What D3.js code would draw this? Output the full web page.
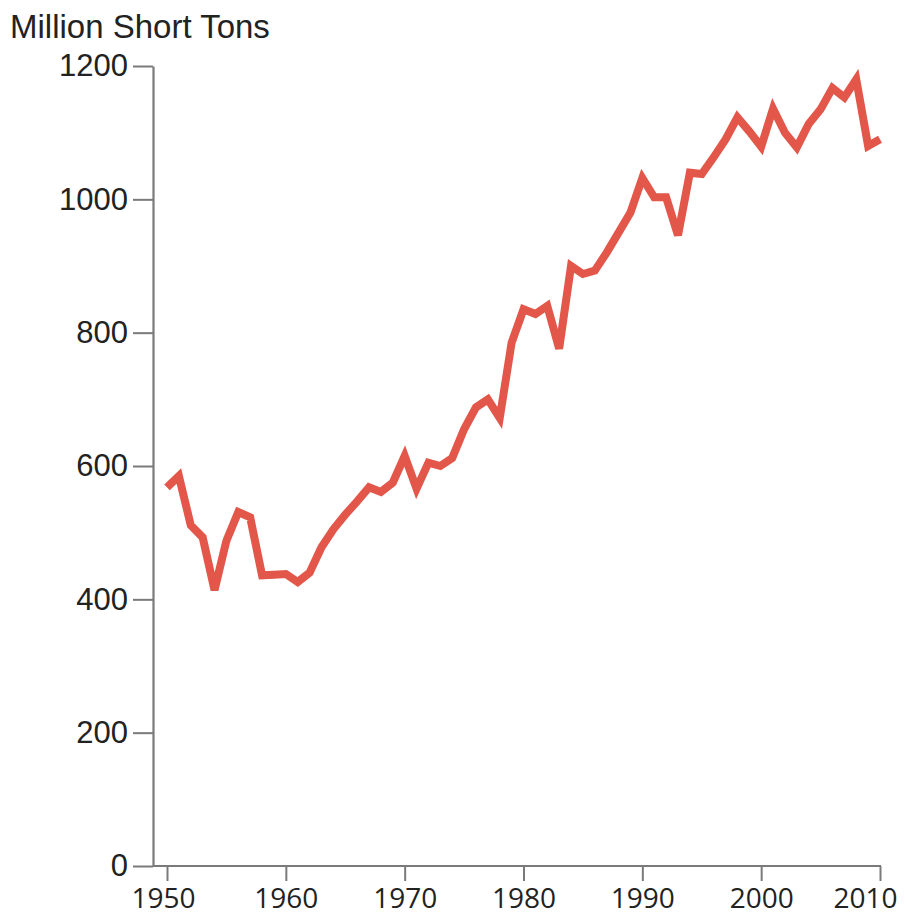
<!DOCTYPE html>
<html>
<head>
<meta charset="utf-8">
<script src="https://cdn.jsdelivr.net/npm/d3@7"></script>
<style>
  html, body { margin: 0; padding: 0; background: #fff; }
  svg { display: block; }
</style>
</head>
<body>
<svg id="chart" width="907" height="917"></svg>
<script>
const years = d3.range(1950, 2011);
const production = [
  568, 585, 511, 493, 414, 488, 531, 523, 436, 437,
  438, 426, 440, 478, 505, 527, 547, 568, 561, 575,
  615, 566, 605, 600, 612, 655, 688, 700, 672, 785,
  835, 828, 840, 776, 900, 888, 893, 920, 950, 980,
  1032, 1003, 1003, 946, 1040, 1038, 1063, 1090, 1123, 1102,
  1079, 1136, 1100, 1078, 1113, 1135, 1167, 1153, 1180, 1080,
  1090
];
const yTicks = [0, 200, 400, 600, 800, 1000, 1200];
const xTicks = [1950, 1960, 1970, 1980, 1990, 2000, 2010];
const yTitle = "Million Short Tons";

const svg = d3.select("#chart");
const axisX0 = 153;
const x = d3.scaleLinear().domain([1950, 2010]).range([167, 880]);
const y = d3.scaleLinear().domain([0, 1200]).range([866, 66]);
const axisColor = "#7a7a7a";

// Y axis
const gy = svg.append("g")
  .attr("transform", `translate(${axisX0},0)`)
  .call(d3.axisLeft(y).tickValues(yTicks).tickSize(20).tickSizeOuter(0).tickPadding(5).tickFormat(d3.format("d")));
gy.select(".domain").attr("stroke", axisColor).attr("stroke-width", 2.2);
gy.selectAll(".tick line").attr("stroke", axisColor).attr("stroke-width", 2);
gy.selectAll(".tick text")
  .attr("fill", "#222")
  .style("font-family", "'Liberation Sans', Arial, Helvetica, sans-serif")
  .style("font-size", "31px");

// X axis
const gx = svg.append("g")
  .attr("transform", `translate(0,${y(0)})`)
  .call(d3.axisBottom(x).tickValues(xTicks).tickSize(15).tickSizeOuter(0).tickPadding(7).tickFormat(d3.format("d")));
gx.select(".domain").remove();
gx.append("line")
  .attr("x1", axisX0).attr("x2", x(2010) + 1)
  .attr("y1", 0).attr("y2", 0)
  .attr("stroke", axisColor).attr("stroke-width", 2.2);
gx.selectAll(".tick line").attr("stroke", axisColor).attr("stroke-width", 2);
gx.selectAll(".tick text")
  .attr("fill", "#222")
  .style("font-family", "'Open Sans', 'Noto Sans', sans-serif")
  .style("font-size", "28px")
  .attr("dx", d => d === 2010 ? -15 : (d === 1950 ? -4 : 0));

// Title
svg.append("text")
  .attr("x", 10).attr("y", 38)
  .attr("fill", "#222")
  .style("font-family", "'Liberation Sans', Arial, Helvetica, sans-serif")
  .style("font-size", "33px")
  .text(yTitle);

// Line
const line = d3.line().x((d, i) => x(years[i])).y(d => y(d));
svg.append("path")
  .datum(production)
  .attr("d", line)
  .attr("fill", "none")
  .attr("stroke", "#e2574a")
  .attr("stroke-width", 8)
  .attr("stroke-linejoin", "miter")
  .attr("stroke-miterlimit", 4);
</script>
</body>
</html>
